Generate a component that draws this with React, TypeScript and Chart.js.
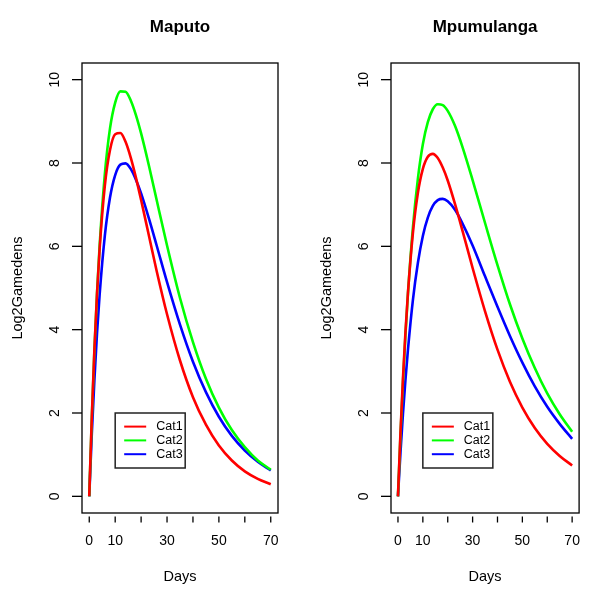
import React, { useEffect, useRef } from "react";
import { Chart, registerables } from "chart.js";

Chart.register(...registerables);

const FONT = "'Liberation Sans', Arial, Helvetica, sans-serif";

// ---- data ----
const days = [0, 1, 2, 3, 4, 6, 8, 10, 12, 14, 16, 18, 20, 23, 26, 30, 35, 40, 45, 50, 55, 60, 65, 70];

const maputoCat1 = [0, 1.94, 3.55, 4.87, 5.94, 7.45, 8.31, 8.69, 8.72, 8.51, 8.13, 7.65, 7.11, 6.26, 5.41, 4.37, 3.26, 2.38, 1.72, 1.22, 0.86, 0.6, 0.42, 0.29];
const maputoCat2 = [0, 1.9, 3.52, 4.88, 6.02, 7.73, 8.83, 9.45, 9.72, 9.71, 9.5, 9.15, 8.71, 7.94, 7.11, 6.02, 4.76, 3.7, 2.82, 2.13, 1.59, 1.18, 0.86, 0.64];
const maputoCat3 = [0, 1.52, 2.81, 3.92, 4.84, 6.25, 7.17, 7.71, 7.96, 7.99, 7.86, 7.6, 7.27, 6.67, 6.02, 5.14, 4.12, 3.23, 2.5, 1.91, 1.45, 1.1, 0.83, 0.62];

const mpumCat1 = [0, 1.52, 2.82, 3.93, 4.87, 6.32, 7.28, 7.86, 8.15, 8.22, 8.12, 7.89, 7.58, 7.0, 6.36, 5.48, 4.44, 3.52, 2.75, 2.13, 1.64, 1.26, 0.97, 0.74];
const mpumCat2 = [0, 1.45, 2.73, 3.86, 4.85, 6.45, 7.62, 8.45, 8.98, 9.29, 9.41, 9.39, 9.25, 8.88, 8.37, 7.59, 6.56, 5.55, 4.61, 3.79, 3.08, 2.47, 1.97, 1.55];
const mpumCat3 = [0, 1.04, 1.97, 2.79, 3.51, 4.71, 5.6, 6.25, 6.69, 6.97, 7.11, 7.14, 7.08, 6.87, 6.54, 6.02, 5.28, 4.55, 3.85, 3.21, 2.64, 2.15, 1.74, 1.38];

const seriesLabels = ["Cat1", "Cat2", "Cat3"];
const seriesColors = ["#ff0000", "#00ff00", "#0000ff"];

const yTicks = [0, 2, 4, 6, 8, 10];
const xTickMarks = [0, 10, 20, 30, 40, 50, 60, 70];
const xTickLabels = [0, 10, 30, 50, 70];

const xRange = [-2.8, 72.8];
const yRange = [-0.4, 10.4];

// legend anchored (top-left) at data coordinates
const legendDay = 10;
const legendValue = 2;

const rPlot = {
  id: "rPlot",
  afterDatasetsDraw(chart: any, _args: any, opts: any) {
    const { ctx, chartArea: a, scales } = chart;
    const x = scales.x;
    const y = scales.y;
    ctx.save();
    ctx.strokeStyle = "#000";
    ctx.fillStyle = "#000";
    ctx.lineWidth = 1.3;
    // main title centred over the plot region
    ctx.font = `bold 17px ${FONT}`;
    ctx.textAlign = "center";
    ctx.textBaseline = "middle";
    ctx.fillText(opts.title || "", (a.left + a.right) / 2, 27);
    // box
    ctx.strokeRect(a.left, a.top, a.right - a.left, a.bottom - a.top);
    // y ticks + rotated labels
    ctx.font = `14px ${FONT}`;
    for (const v of yTicks) {
      const py = y.getPixelForValue(v);
      ctx.beginPath();
      ctx.moveTo(a.left - 10, py);
      ctx.lineTo(a.left, py);
      ctx.stroke();
      ctx.save();
      ctx.translate(a.left - 27, py);
      ctx.rotate(-Math.PI / 2);
      ctx.textAlign = "center";
      ctx.textBaseline = "middle";
      ctx.fillText(String(v), 0, 0);
      ctx.restore();
    }
    // x tick marks (detached from box)
    for (const v of xTickMarks) {
      const px = x.getPixelForValue(v);
      ctx.beginPath();
      ctx.moveTo(px, a.bottom + 3.5);
      ctx.lineTo(px, a.bottom + 9.5);
      ctx.stroke();
    }
    // legend
    const bx = x.getPixelForValue(legendDay);
    const by = y.getPixelForValue(legendValue);
    const bw = 70;
    const bh = 55;
    ctx.fillStyle = "#fff";
    ctx.fillRect(bx, by, bw, bh);
    ctx.strokeStyle = "#222";
    ctx.lineWidth = 1.5;
    ctx.strokeRect(bx, by, bw, bh);
    ctx.font = `12.5px ${FONT}`;
    ctx.textAlign = "left";
    ctx.textBaseline = "middle";
    chart.data.datasets.forEach((ds: any, i: number) => {
      const ry = by + 13.6 + i * 13.8;
      ctx.strokeStyle = ds.borderColor;
      ctx.lineWidth = 2;
      ctx.beginPath();
      ctx.moveTo(bx + 9, ry);
      ctx.lineTo(bx + 31, ry);
      ctx.stroke();
      ctx.fillStyle = "#000";
      ctx.fillText(ds.label, bx + 41, ry);
    });
    ctx.restore();
  },
};

function Panel({ title, series, left, width }: { title: string; series: number[][]; left: number; width: number }) {
  const ref = useRef<HTMLCanvasElement>(null);
  useEffect(() => {
    if (!ref.current) return;
    Chart.defaults.font.family = FONT;
    Chart.defaults.color = "#000";
    const chart = new Chart(ref.current, {
      type: "line",
      data: {
        datasets: series.map((vals, i) => ({
          label: seriesLabels[i],
          data: days.map((d, j) => ({ x: d, y: vals[j] })),
          borderColor: seriesColors[i],
          backgroundColor: seriesColors[i],
          borderWidth: 2.6,
          pointRadius: 0,
          cubicInterpolationMode: "monotone" as const,
          fill: false,
        })),
      },
      options: {
        responsive: false,
        animation: false,
        devicePixelRatio: 1,
        layout: { padding: { left: 0, top: 63, bottom: 0, right: width - 278 } },
        plugins: {
          legend: { display: false },
          tooltip: { enabled: false },
          title: { display: false },
          rPlot: { title },
        } as any,
        scales: {
          x: {
            type: "linear",
            min: xRange[0],
            max: xRange[1],
            afterBuildTicks: (s: any) => {
              s.ticks = xTickMarks.map((v) => ({ value: v }));
            },
            afterFit: (s: any) => {
              s.height = 85;
            },
            grid: { display: false, drawTicks: false },
            border: { display: false },
            ticks: {
              autoSkip: false,
              maxRotation: 0,
              minRotation: 0,
              padding: 19.6,
              color: "#000",
              font: { size: 14, family: FONT },
              callback: (v: any) => (xTickLabels.includes(Number(v)) ? String(v) : ""),
            },
            title: {
              display: true,
              text: "Days",
              color: "#000",
              font: { size: 14.5, family: FONT },
              padding: { top: 0, bottom: 12.3 },
            },
          },
          y: {
            type: "linear",
            min: yRange[0],
            max: yRange[1],
            afterBuildTicks: (s: any) => {
              s.ticks = yTicks.map((v) => ({ value: v }));
            },
            afterFit: (s: any) => {
              s.width = 82;
            },
            grid: { display: false, drawTicks: false },
            border: { display: false },
            ticks: { display: false },
            title: {
              display: true,
              text: "Log2Gamedens",
              color: "#000",
              font: { size: 14.5, family: FONT },
              padding: { top: 9.3, bottom: 0 },
            },
          },
        },
      },
      plugins: [rPlot],
    });
    return () => chart.destroy();
  }, []);
  return (
    <canvas
      ref={ref}
      width={width}
      height={598}
      style={{ position: "absolute", left, top: 0, width, height: 598 }}
    />
  );
}

export default function App() {
  return (
    <div
      style={{
        position: "fixed",
        left: 0,
        top: 0,
        width: 600,
        height: 598,
        overflow: "hidden",
        background: "#fff",
      }}
    >
      <Panel title="Maputo" series={[maputoCat1, maputoCat2, maputoCat3]} left={0} width={309} />
      <Panel title="Mpumulanga" series={[mpumCat1, mpumCat2, mpumCat3]} left={309} width={291} />
    </div>
  );
}
